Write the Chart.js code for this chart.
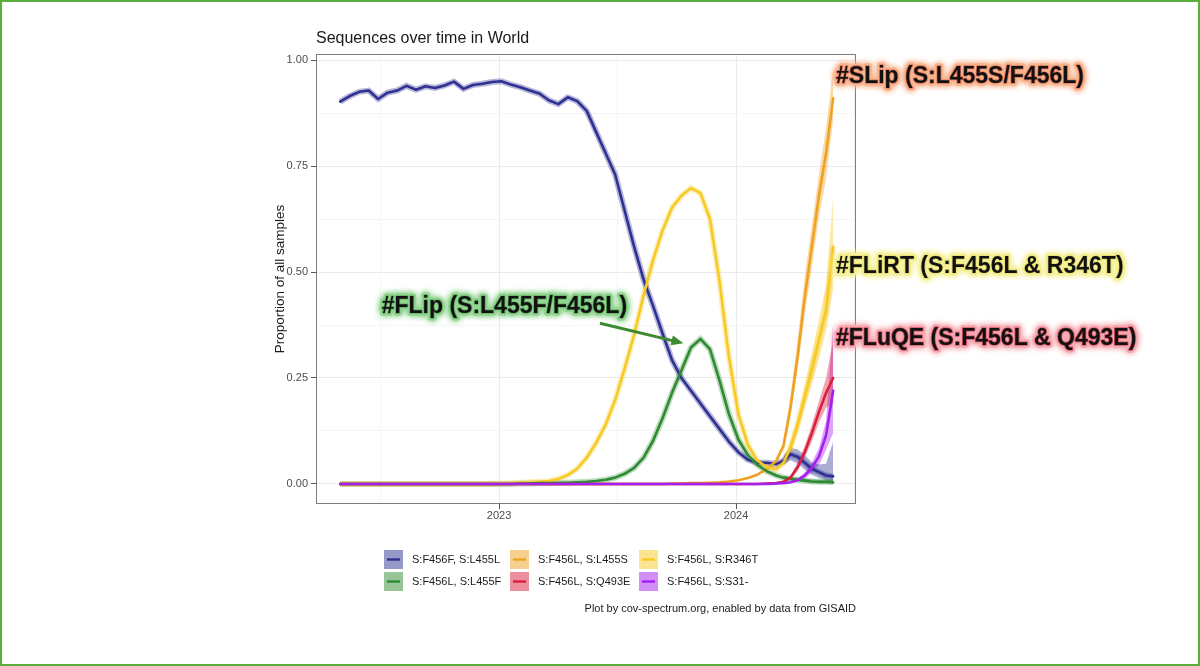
<!DOCTYPE html>
<html>
<head>
<meta charset="utf-8">
<script src="https://cdn.jsdelivr.net/npm/chart.js@4"></script>
<style>
  html, body { margin: 0; padding: 0; background: #fff; }
  canvas { display: block; }
</style>
</head>
<body>
<canvas id="chart" width="1200" height="666"></canvas>
<script>
// sample dates as decimal years
const dates = [
  2022.33, 2022.37, 2022.41, 2022.45, 2022.49, 2022.53, 2022.57, 2022.61, 2022.65, 2022.69, 2022.73, 2022.77, 2022.81, 2022.85, 2022.89, 2022.93, 2022.97,
  2023.01, 2023.05, 2023.09, 2023.13, 2023.17, 2023.21, 2023.25, 2023.29, 2023.33, 2023.37, 2023.41, 2023.45, 2023.49, 2023.53, 2023.57, 2023.61, 2023.65, 2023.69, 2023.73, 2023.77, 2023.81, 2023.85, 2023.89, 2023.93, 2023.97,
  2024.01, 2024.05, 2024.09, 2024.13, 2024.17,
  2024.20, 2024.23, 2024.26, 2024.29, 2024.32, 2024.35, 2024.38, 2024.41
];

const f456fL455l = [
  0.902, 0.915, 0.925, 0.928, 0.908, 0.923, 0.928, 0.939, 0.930, 0.938, 0.934, 0.940, 0.949, 0.932, 0.941, 0.944, 0.948,
  0.950, 0.942, 0.936, 0.928, 0.921, 0.905, 0.896, 0.912, 0.903, 0.880, 0.830, 0.780, 0.730, 0.645, 0.560, 0.482, 0.420, 0.355, 0.292, 0.250, 0.220, 0.190, 0.160, 0.130, 0.100,
  0.075, 0.057, 0.050, 0.050, 0.047,
  0.055, 0.070, 0.064, 0.050, 0.036, 0.028, 0.020, 0.018
];
const f456lL455s = [
  0, 0, 0, 0, 0, 0, 0, 0, 0, 0, 0, 0, 0, 0, 0, 0, 0,
  0, 0, 0, 0, 0, 0, 0, 0, 0, 0, 0, 0, 0, 0, 0, 0, 0, 0, 0.001, 0.001, 0.002, 0.002, 0.003, 0.004, 0.006,
  0.009, 0.014, 0.022, 0.035, 0.055,
  0.09, 0.18, 0.30, 0.44, 0.56, 0.68, 0.78, 0.91
];
const f456lR346t = [
  0, 0, 0, 0, 0, 0, 0, 0, 0, 0, 0, 0, 0, 0, 0, 0, 0.001,
  0.001, 0.002, 0.003, 0.004, 0.005, 0.007, 0.012, 0.021, 0.036, 0.062, 0.097, 0.140, 0.198, 0.272, 0.352, 0.445, 0.528, 0.598, 0.652, 0.680, 0.698, 0.686, 0.625, 0.480, 0.300,
  0.165, 0.092, 0.055, 0.040, 0.035,
  0.05, 0.085, 0.14, 0.205, 0.27, 0.34, 0.41, 0.56
];
const f456lL455f = [
  0, 0, 0, 0, 0, 0, 0, 0, 0, 0, 0, 0, 0, 0, 0, 0, 0,
  0, 0, 0.001, 0.001, 0.002, 0.002, 0.003, 0.003, 0.004, 0.005, 0.007, 0.010, 0.015, 0.024, 0.038, 0.062, 0.102, 0.155, 0.215, 0.268, 0.322, 0.342, 0.318, 0.245, 0.165,
  0.105, 0.068, 0.045, 0.030, 0.020,
  0.015, 0.012, 0.010, 0.008, 0.006, 0.005, 0.005, 0.004
];
const f456lQ493e = [
  0, 0, 0, 0, 0, 0, 0, 0, 0, 0, 0, 0, 0, 0, 0, 0, 0,
  0, 0, 0, 0, 0, 0, 0, 0, 0, 0, 0, 0, 0, 0, 0, 0, 0, 0, 0, 0, 0, 0, 0, 0, 0,
  0, 0, 0, 0.001, 0.002,
  0.005, 0.015, 0.04, 0.075, 0.12, 0.17, 0.215, 0.25
];
const f456lS31del = [
  0, 0, 0, 0, 0, 0, 0, 0, 0, 0, 0, 0, 0, 0, 0, 0, 0,
  0, 0, 0, 0, 0, 0, 0, 0, 0, 0, 0, 0, 0, 0, 0, 0, 0, 0, 0, 0, 0, 0, 0, 0, 0,
  0, 0, 0, 0, 0.001,
  0.002, 0.004, 0.009, 0.02, 0.038, 0.065, 0.115, 0.22
];

// confidence band over the last 8 dates (upper / lower)
const f456lL455lHi = [0.068, 0.085, 0.082, 0.068, 0.052, 0.046, 0.048, 0.10];
const f456lL455lLo = [0.044, 0.056, 0.048, 0.034, 0.022, 0.014, 0.008, 0.0];
const f456lL455sHi = [0.10, 0.21, 0.34, 0.49, 0.61, 0.73, 0.84, 0.98];
const f456lL455sLo = [0.07, 0.16, 0.27, 0.40, 0.51, 0.63, 0.72, 0.86];
const f456lR346tHi = [0.06, 0.10, 0.16, 0.235, 0.31, 0.39, 0.47, 0.68];
const f456lR346tLo = [0.04, 0.072, 0.12, 0.18, 0.235, 0.295, 0.36, 0.46];
const f456lL455fHi = [0.02, 0.017, 0.015, 0.013, 0.011, 0.010, 0.010, 0.012];
const f456lL455fLo = [0.010, 0.008, 0.006, 0.004, 0.003, 0.002, 0.002, 0.001];
const f456lQ493eHi = [0.008, 0.02, 0.05, 0.09, 0.14, 0.195, 0.25, 0.34];
const f456lQ493eLo = [0.003, 0.01, 0.03, 0.062, 0.10, 0.145, 0.18, 0.19];
const f456lS31delHi = [0.003, 0.006, 0.013, 0.027, 0.05, 0.085, 0.15, 0.38];
const f456lS31delLo = [0.001, 0.002, 0.005, 0.013, 0.026, 0.045, 0.08, 0.12];

const xTickYears = [2022.5, 2023, 2023.5, 2024, 2024.5];
const yTickValues = [0, 0.125, 0.25, 0.375, 0.5, 0.625, 0.75, 0.875, 1];

const FONT = '"Liberation Sans", Arial, sans-serif';

// legend order (by row, 3 columns)
const series = [
  { label: 'S:F456F, S:L455L', vals: f456fL455l, hi: f456lL455lHi, lo: f456lL455lLo, color: '#2e3192', rgb: '46,49,146', band: 0.35 },
  { label: 'S:F456L, S:L455S', vals: f456lL455s, hi: f456lL455sHi, lo: f456lL455sLo, color: '#f0a121', rgb: '240,161,33', band: 0 },
  { label: 'S:F456L, S:R346T', vals: f456lR346t, hi: f456lR346tHi, lo: f456lR346tLo, color: '#f7c923', rgb: '247,201,35', band: 0.3 },
  { label: 'S:F456L, S:L455F', vals: f456lL455f, hi: f456lL455fHi, lo: f456lL455fLo, color: '#2f8b31', rgb: '47,139,49', band: 0.3 },
  { label: 'S:F456L, S:Q493E', vals: f456lQ493e, hi: f456lQ493eHi, lo: f456lQ493eLo, color: '#d91f3e', rgb: '217,31,62', band: 0 },
  { label: 'S:F456L, S:S31-', vals: f456lS31del, hi: f456lS31delHi, lo: f456lS31delLo, color: '#a41ff0', rgb: '164,31,240', band: 0 }
];

const tailDates = dates.slice(dates.length - 8);
const toPts = (xs, ys) => xs.map((x, i) => ({ x: x, y: ys[i] }));

const datasets = [];
series.forEach((s, i) => {
  // tail ribbon
  datasets.push({
    data: toPts(tailDates, s.hi), fill: '+1', backgroundColor: `rgba(${s.rgb},0.4)`,
    borderWidth: 0, pointRadius: 0, order: 20
  });
  datasets.push({
    data: toPts(tailDates, s.lo), fill: false, borderWidth: 0, pointRadius: 0, order: 20
  });
  if (s.band > 0) {
    datasets.push({
      data: toPts(dates, s.vals), borderColor: `rgba(${s.rgb},${s.band})`,
      borderWidth: 6, pointRadius: 0, fill: false, order: 15
    });
  }
  datasets.push({
    label: s.label, data: toPts(dates, s.vals), borderColor: s.color,
    borderWidth: 2.6, pointRadius: 0, fill: false, order: 6 - i,
    borderJoinStyle: 'round', borderCapStyle: 'round'
  });
});

// annotation positions in data units
const notes = [
  { text: '#SLip (S:L455S/F456L)', x: 2024.422, y: 0.946, glow: '#f7b48e', edge: '#e2765a' },
  { text: '#FLiRT (S:F456L & R346T)', x: 2024.422, y: 0.498, glow: '#f5f09a', edge: '#e3da6a' },
  { text: '#FLuQE (S:F456L & Q493E)', x: 2024.422, y: 0.328, glow: '#f4a9b0', edge: '#d9566a' },
  { text: '#FLip (S:L455F/F456L)', x: 2022.505, y: 0.403, glow: '#93d493', edge: '#62b062' }
];
const arrow = { from: [2023.426, 0.379], to: [2023.778, 0.332], color: '#3d8b2f' };

function glowText(ctx, n, px, py) {
  ctx.save();
  ctx.font = 'bold 23px ' + FONT;
  ctx.textBaseline = 'alphabetic';
  ctx.textAlign = 'left';
  ctx.lineJoin = 'round';
  ctx.shadowColor = n.glow;
  ctx.shadowBlur = 6;
  ctx.strokeStyle = n.glow;
  ctx.lineWidth = 5;
  for (let k = 0; k < 2; k++) ctx.strokeText(n.text, px, py);
  ctx.shadowBlur = 0;
  ctx.lineWidth = 1.6;
  ctx.strokeStyle = n.edge;
  ctx.strokeText(n.text, px, py);
  ctx.fillStyle = '#111';
  ctx.fillText(n.text, px, py);
  ctx.restore();
}

const decor = {
  id: 'decor',
  beforeDraw(chart) {
    const ctx = chart.ctx;
    ctx.save();
    ctx.fillStyle = '#fff';
    ctx.fillRect(0, 0, chart.width, chart.height);
    ctx.restore();
  },
  afterDatasetsDraw(chart) {
    const { ctx, chartArea: a } = chart;
    ctx.save();
    ctx.strokeStyle = '#7d7d7d';
    ctx.lineWidth = 1;
    ctx.strokeRect(Math.round(a.left) + 0.5, Math.round(a.top) + 0.5, Math.round(a.right - a.left) - 1, Math.round(a.bottom - a.top) - 1);
    ctx.restore();
  },
  afterDraw(chart) {
    const { ctx, chartArea: a, scales } = chart;
    const X = v => scales.x.getPixelForValue(v);
    const Y = v => scales.y.getPixelForValue(v);
    ctx.save();
    // title
    ctx.fillStyle = '#1a1a1a';
    ctx.font = '16px ' + FONT;
    ctx.textBaseline = 'middle';
    ctx.textAlign = 'left';
    ctx.fillText('Sequences over time in World', a.left, 39);

    // legend, 2 rows x 3 columns
    const colX = [384, 510, 639];
    const rowY = [559.5, 581.5];
    ctx.font = '11px ' + FONT;
    series.forEach((s, i) => {
      const bx = colX[i % 3], cy = rowY[Math.floor(i / 3)];
      ctx.fillStyle = `rgba(${s.rgb},0.5)`;
      ctx.fillRect(bx, cy - 9.5, 19, 19);
      ctx.strokeStyle = s.color;
      ctx.lineWidth = 2.4;
      ctx.beginPath();
      ctx.moveTo(bx + 3, cy);
      ctx.lineTo(bx + 16, cy);
      ctx.stroke();
      ctx.fillStyle = '#1a1a1a';
      ctx.fillText(s.label, bx + 28, cy);
    });

    // caption
    ctx.textAlign = 'right';
    ctx.fillText('Plot by cov-spectrum.org, enabled by data from GISAID', a.right, 609);

    // arrow
    const x1 = X(arrow.from[0]), y1 = Y(arrow.from[1]);
    const x2 = X(arrow.to[0]), y2 = Y(arrow.to[1]);
    const ang = Math.atan2(y2 - y1, x2 - x1);
    ctx.strokeStyle = arrow.color;
    ctx.fillStyle = arrow.color;
    ctx.lineWidth = 3;
    ctx.beginPath();
    ctx.moveTo(x1, y1);
    ctx.lineTo(x2 - 8 * Math.cos(ang), y2 - 8 * Math.sin(ang));
    ctx.stroke();
    ctx.beginPath();
    ctx.moveTo(x2, y2);
    ctx.lineTo(x2 - 12 * Math.cos(ang) + 5 * Math.sin(ang), y2 - 12 * Math.sin(ang) - 5 * Math.cos(ang));
    ctx.lineTo(x2 - 12 * Math.cos(ang) - 5 * Math.sin(ang), y2 - 12 * Math.sin(ang) + 5 * Math.cos(ang));
    ctx.closePath();
    ctx.fill();

    notes.forEach(n => glowText(ctx, n, X(n.x), Y(n.y)));

    // outer frame
    ctx.strokeStyle = '#5aae3c';
    ctx.lineWidth = 2;
    ctx.strokeRect(1, 1, chart.width - 2, chart.height - 2);
    ctx.restore();
  }
};

const isMajorY = v => Math.abs(v * 4 - Math.round(v * 4)) < 1e-6;

new Chart(document.getElementById('chart').getContext('2d'), {
  type: 'line',
  data: { datasets: datasets },
  options: {
    responsive: false,
    devicePixelRatio: 1,
    animation: false,
    events: [],
    layout: { padding: { left: 269, right: 344, top: 54, bottom: 132 } },
    plugins: { legend: { display: false }, title: { display: false }, tooltip: { enabled: false } },
    elements: { line: { tension: 0 } },
    scales: {
      x: {
        type: 'linear',
        min: 2022.2278,
        max: 2024.5063,
        afterFit: s => { s.height = 30; },
        afterBuildTicks: s => { s.ticks = xTickYears.map(v => ({ value: v })); },
        border: { display: false },
        grid: {
          color: c => Number.isInteger(c.tick.value) ? '#ebebeb' : '#f5f5f5',
          tickColor: c => Number.isInteger(c.tick.value) ? '#555' : 'rgba(0,0,0,0)',
          tickLength: 5
        },
        ticks: {
          autoSkip: false, maxRotation: 0, padding: 0,
          color: '#4d4d4d', font: { family: FONT, size: 11 },
          callback: v => Number.isInteger(v) ? String(v) : ''
        }
      },
      y: {
        type: 'linear',
        min: -0.0472,
        max: 1.0142,
        afterFit: s => { s.width = 47; },
        afterBuildTicks: s => { s.ticks = yTickValues.map(v => ({ value: v })); },
        border: { display: false },
        grid: {
          color: c => isMajorY(c.tick.value) ? '#ebebeb' : '#f5f5f5',
          tickColor: c => isMajorY(c.tick.value) ? '#555' : 'rgba(0,0,0,0)',
          tickLength: 5
        },
        ticks: {
          autoSkip: false, padding: 3,
          color: '#4d4d4d', font: { family: FONT, size: 11 },
          callback: v => isMajorY(v) ? v.toFixed(2) : ''
        },
        title: {
          display: true, text: 'Proportion of all samples', color: '#1a1a1a',
          font: { family: FONT, size: 13.5 }, padding: { top: 3, bottom: 0 }
        }
      }
    }
  },
  plugins: [decor]
});
</script>
</body>
</html>
